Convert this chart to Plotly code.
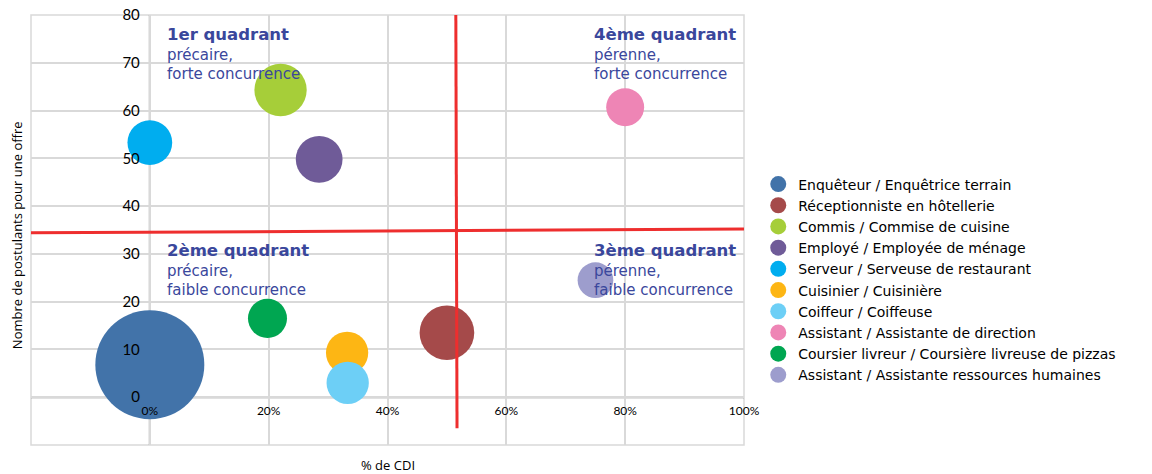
import plotly.graph_objects as go

# ---- data ----
jobs = [
    "Enquêteur / Enquêtrice terrain",
    "Réceptionniste en hôtellerie",
    "Commis / Commise de cuisine",
    "Employé / Employée de ménage",
    "Serveur / Serveuse de restaurant",
    "Cuisinier / Cuisinière",
    "Coiffeur / Coiffeuse",
    "Assistant / Assistante de direction",
    "Coursier livreur / Coursière livreuse de pizzas",
    "Assistant / Assistante ressources humaines",
]
pct_cdi = [0.0, 0.50, 0.22, 0.285, 0.0, 0.332, 0.333, 0.80, 0.198, 0.75]
postulants = [6.8, 13.5, 64.3, 49.8, 53.3, 9.3, 3.0, 60.7, 16.5, 24.5]
bubble_size = [990, 249, 228, 182, 167, 149, 149, 120, 127, 106]
colors = ["#4273A9", "#A54A4A", "#A6CE39", "#6F5B98", "#00ADEF",
          "#FDB614", "#6DCFF6", "#EE85B5", "#00A651", "#9D9DCD"]

x_ticks = [0, 0.2, 0.4, 0.6, 0.8, 1.0]
y_ticks = [0, 10, 20, 30, 40, 50, 60, 70, 80]
x_range = [-0.2, 1.0]
y_range = [-10, 80]

# quadrant separators (as drawn in the source)
h_sep_x = [-0.2, 1.0]
h_sep_y = [34.4, 35.2]
v_sep_x = [0.515, 0.517]
v_sep_y = [80, -6.5]

quadrants = [
    ("1er quadrant", "précaire,", "forte concurrence", 0.025, 78.4),
    ("2ème quadrant", "précaire,", "faible concurrence", 0.025, 33.2),
    ("4ème quadrant", "pérenne,", "forte concurrence", 0.745, 78.4),
    ("3ème quadrant", "pérenne,", "faible concurrence", 0.745, 33.2),
]

fig = go.Figure()
for j, x, y, s, c in zip(jobs, pct_cdi, postulants, bubble_size, colors):
    fig.add_trace(go.Scatter(
        x=[x], y=[y], mode="markers", name=j,
        marker=dict(size=[s], sizemode="area", sizeref=1/6, color=c,
                    line=dict(width=0), opacity=1),
    ))

grid = "#D9D9D9"
xpos = (0 - y_range[0]) / (y_range[1] - y_range[0])
ypos = (0 - x_range[0]) / (x_range[1] - x_range[0])

fig.update_layout(
    width=1152, height=474,
    margin=dict(l=23, r=416, t=7, b=37, autoexpand=False),
    plot_bgcolor="white", paper_bgcolor="white",
    font=dict(family="DejaVu Sans", color="black"),
    xaxis=dict(range=x_range, tickvals=x_ticks, tickformat=".0%",
               showgrid=True, gridcolor=grid, gridwidth=1.5,
               zeroline=False, showline=False, automargin=False,
               anchor="free", position=xpos, ticklabeloverflow="allow",
               ticks="outside", ticklen=2, tickcolor="rgba(0,0,0,0)",
               tickfont=dict(family="Lato", size=12, color="black")),
    yaxis=dict(range=y_range, tickvals=y_ticks,
               showgrid=True, gridcolor=grid, gridwidth=1.5,
               zeroline=False, showline=False, automargin=False,
               anchor="free", position=ypos, ticklabeloverflow="allow",
               ticks="outside", ticklen=7, tickcolor="rgba(0,0,0,0)",
               tickfont=dict(family="Lato", size=15, color="black")),
    legend=dict(x=1.02, y=0.385, xanchor="left", yanchor="middle",
                font=dict(family="DejaVu Sans", size=14, color="black"),
                bgcolor="rgba(0,0,0,0)", itemclick=False),
    showlegend=True,
)

shapes = [
    # plot border
    dict(type="rect", xref="x domain", yref="y domain", x0=0, x1=1, y0=0, y1=1,
         line=dict(color=grid, width=1.5), layer="below"),
    # dark zero axes
    dict(type="line", xref="x domain", yref="y", x0=0, x1=1, y0=0, y1=0,
         line=dict(color="#878787", width=2), layer="below"),
    dict(type="line", xref="x", yref="y domain", x0=0, x1=0, y0=0, y1=1,
         line=dict(color="#878787", width=2), layer="below"),
    # quadrant separators
    dict(type="line", xref="x", yref="y", x0=h_sep_x[0], x1=h_sep_x[1],
         y0=h_sep_y[0], y1=h_sep_y[1], line=dict(color="#EE2E2E", width=3), layer="above"),
    dict(type="line", xref="x", yref="y", x0=v_sep_x[0], x1=v_sep_x[1],
         y0=v_sep_y[0], y1=v_sep_y[1], line=dict(color="#EE2E2E", width=3), layer="above"),
]
fig.update_layout(shapes=shapes)

for title, l1, l2, qx, qy in quadrants:
    txt = (f"<span style='font-size:16.5px'><b>{title}</b></span><br>"
           f"{l1}<br>{l2}")
    fig.add_annotation(x=qx, y=qy, xref="x", yref="y", text=txt, showarrow=False,
                       xanchor="left", yanchor="top", align="left",
                       font=dict(family="DejaVu Sans", size=15, color="#3A479C"))

fig.add_annotation(x=0.5, y=0, xref="paper", yref="paper", text="% de CDI",
                   showarrow=False, yshift=-20, yanchor="middle",
                   font=dict(family="Open Sans", size=13, color="black"))
fig.add_annotation(x=0, y=0.488, xref="paper", yref="paper",
                   text="Nombre de postulants pour une offre", textangle=-90,
                   showarrow=False, xshift=-14, xanchor="center",
                   font=dict(family="Open Sans", size=13, color="black"))

fig.write_html("out.html")
